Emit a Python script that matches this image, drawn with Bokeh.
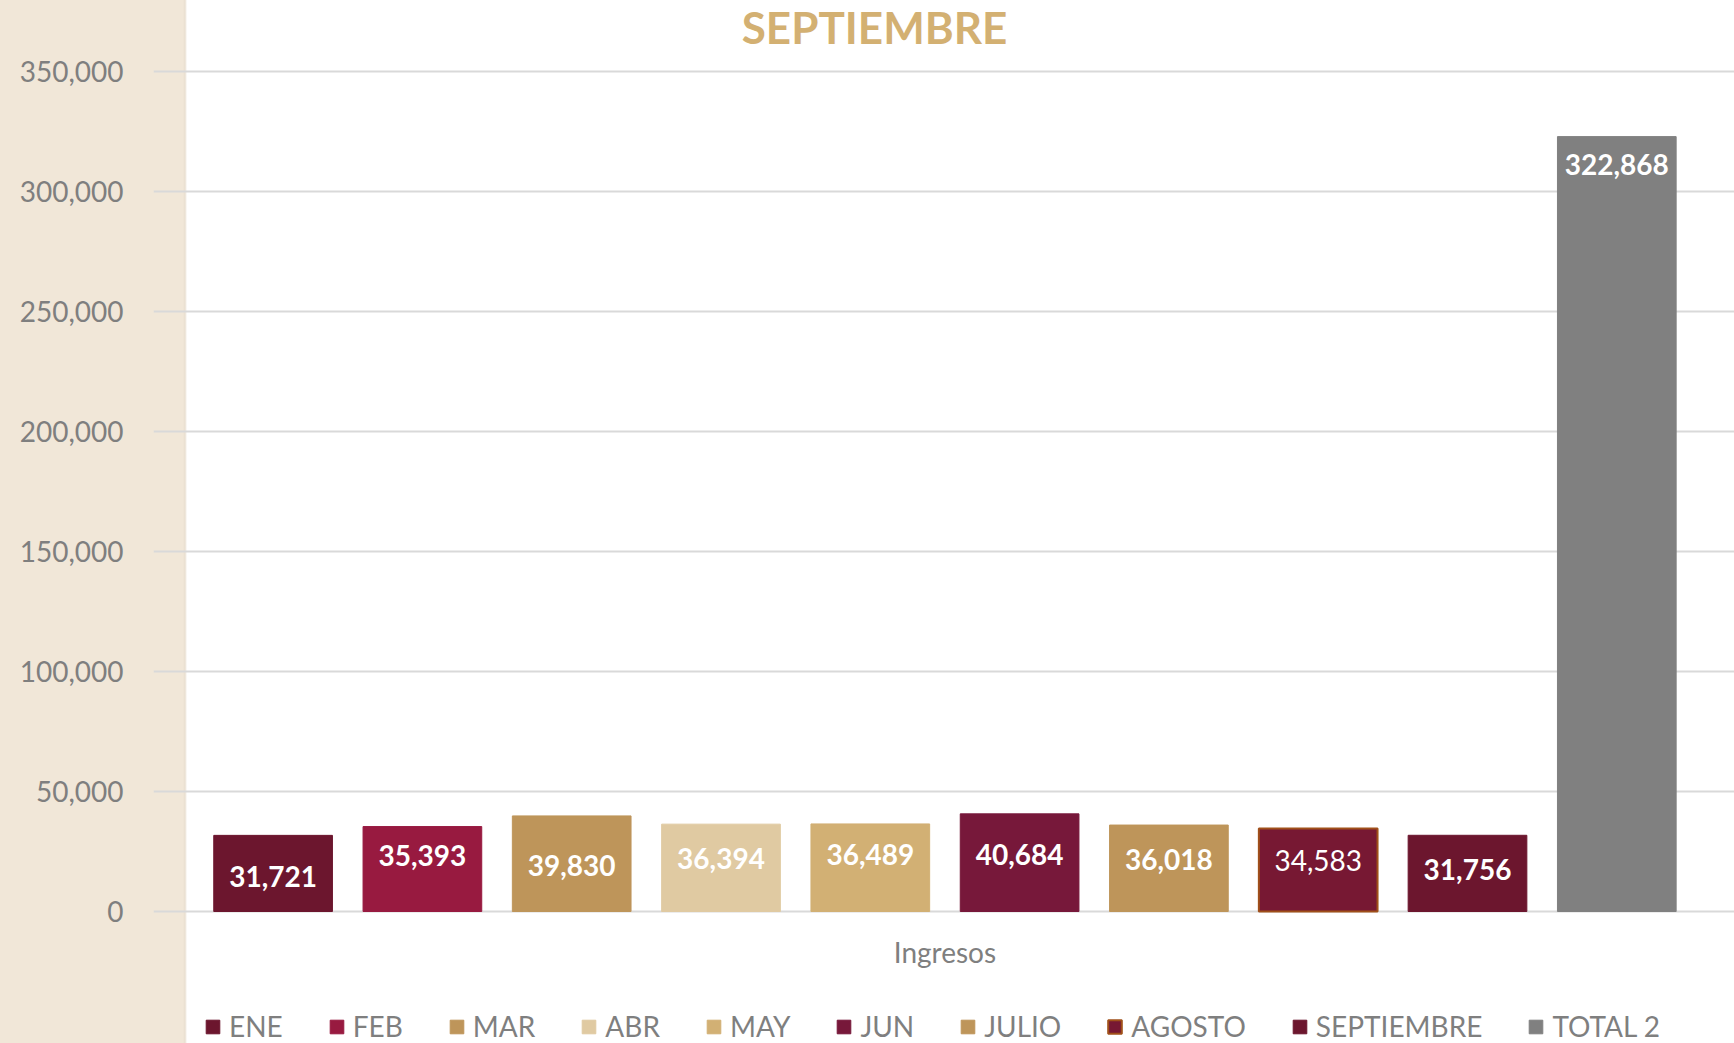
from bokeh.plotting import figure
from bokeh.models import (ColumnDataSource, Range1d, FixedTicker, NumeralTickFormatter,
                          Legend, LegendItem)
from bokeh.core.properties import value
from bokeh.embed import file_html
from bokeh.resources import INLINE

# ---- data ----
title_text = "SEPTIEMBRE"
group_label = "Ingresos"
categories = ["ENE", "FEB", "MAR", "ABR", "MAY", "JUN", "JULIO", "AGOSTO", "SEPTIEMBRE", "TOTAL 2"]
values = [31721, 35393, 39830, 36394, 36489, 40684, 36018, 34583, 31756, 322868]
y_ticks = [0, 50000, 100000, 150000, 200000, 250000, 300000, 350000]

# ---- styles ----
fill_colors = ["#6C162E", "#981A40", "#BE955A", "#E0CAA2", "#D2B074",
               "#77183A", "#BE955A", "#771833", "#6C162E", "#808080"]
line_colors = list(fill_colors)
line_colors[7] = "#A0501A"
line_widths = [1, 1, 1, 1, 1, 1, 1, 2, 1, 1]
label_styles = ["bold"] * 10
label_styles[7] = "normal"
label_offsets = [3, -14, 2, -9, -13, -8, -9, -10, -4, 28]   # px, + = down

FONT = "Lato"
GREY = "#7F7F7F"

# layout (pixels)
W, H = 1734, 1043
FRAME_LEFT = 153
ZERO_PX, TOP_TICK_PX = 911, 71            # screen y of 0 and of 350,000
SLOT0_PX, SLOT_PX = 272.6, 149.3          # screen x of first bar centre, bar pitch
TITLE_CX, TITLE_CY = 874, 26              # screen centre of the title
px_per_unit = (ZERO_PX - TOP_TICK_PX) / y_ticks[-1]
y_start = -(H - ZERO_PX) / px_per_unit
y_end = y_ticks[-1] + TOP_TICK_PX / px_per_unit
x_start = (FRAME_LEFT - SLOT0_PX) / SLOT_PX
x_end = (W - SLOT0_PX) / SLOT_PX

xs = list(range(len(categories)))
label_y = [v if c == "TOTAL 2" else v / 2 for c, v in zip(categories, values)]

src = ColumnDataSource(dict(
    x=xs, top=values, cat=categories, fill=fill_colors, line=line_colors, lw=line_widths,
    ly=label_y, txt=[f"{v:,}" for v in values], fst=label_styles, yo=label_offsets,
))

p = figure(width=W, height=H, output_backend="svg", toolbar_location=None,
           x_range=Range1d(x_start, x_end), y_range=Range1d(y_start, y_end),
           min_border_left=FRAME_LEFT, min_border_right=0, min_border_top=0,
           min_border_bottom=0)

p.styles = {"background": "linear-gradient(to right, #F1E7D8 0px, #F1E7D8 183px, #E9DFD0 185px, #FFFFFF 187px)"}
p.border_fill_color = None
p.background_fill_color = None
p.outline_line_color = None

r = p.vbar(x="x", top="top", bottom=0, width=0.795, source=src,
           fill_color="fill", line_color="line", line_width="lw")

p.text(x="x", y="ly", text="txt", source=src, text_align="center", text_baseline="middle",
       text_font=value(FONT), text_font_size="28px", text_font_style="fst",
       text_color="white", y_offset="yo")

# chart title
p.text(x=[x_start + (TITLE_CX - FRAME_LEFT) / SLOT_PX], y=[y_end - TITLE_CY / px_per_unit],
       text=[title_text], text_align="center", text_baseline="middle",
       text_font=value(FONT), text_font_size="44px", text_font_style="bold",
       text_color="#D3B072")

# category label under the cluster
p.text(x=[sum(xs) / len(xs)], y=[-40 / px_per_unit], text=[group_label],
       text_align="center", text_baseline="middle", text_font=value(FONT),
       text_font_size="28px", text_color=GREY)

# axes
p.yaxis.ticker = FixedTicker(ticks=y_ticks)
p.yaxis.formatter = NumeralTickFormatter(format="0,0")
p.yaxis.axis_line_color = None
p.yaxis.major_tick_line_color = None
p.yaxis.minor_tick_line_color = None
p.yaxis.major_label_standoff = 24
p.yaxis.major_label_text_font = FONT
p.yaxis.major_label_text_font_size = "28px"
p.yaxis.major_label_text_color = GREY
p.xaxis.visible = False

p.xgrid.grid_line_color = None
p.ygrid.ticker = FixedTicker(ticks=y_ticks)
p.ygrid.grid_line_color = "#D9D9D9"
p.ygrid.grid_line_width = 2

# legend
items = [LegendItem(label=c, renderers=[r], index=i) for i, c in enumerate(categories)]
legend = Legend(items=items, orientation="horizontal", location=(204 - FRAME_LEFT, 0),
                glyph_width=17, glyph_height=17, label_standoff=8, spacing=45,
                label_text_font=FONT, label_text_font_size="28px", label_text_color=GREY,
                border_line_color=None, background_fill_alpha=0, padding=0, margin=0)
p.add_layout(legend, "center")

open("out.html", "w").write(file_html(p, INLINE))
